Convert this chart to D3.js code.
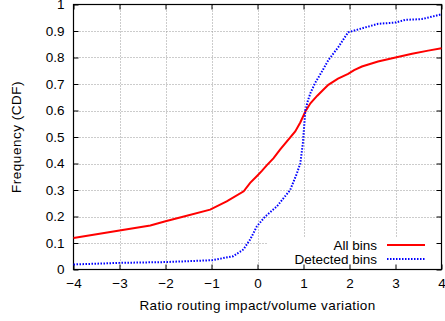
<!DOCTYPE html>
<html>
<head>
<meta charset="utf-8">
<script src="https://cdn.jsdelivr.net/npm/d3@7"></script>
<style>
  body { margin: 0; background: #fff; }
  text { font-family: "Liberation Sans", Arial, sans-serif; font-size: 13.5px; fill: #000; }
</style>
</head>
<body>
<svg width="445" height="321"></svg>
<script>
"use strict";

// values
const allBinsX = [-4, -3, -2.33, -2, -1.6, -1.03, -0.67, -0.3, -0.16, 0, 0.095, 0.2, 0.35, 0.49, 0.82, 0.93, 1.04, 1.15, 1.3, 1.43, 1.54, 1.75, 1.97, 2.1, 2.27, 2.62, 3.0, 3.36, 3.71, 4];
const allBinsY = [0.119, 0.147, 0.166, 0.182, 0.2, 0.226, 0.257, 0.295, 0.327, 0.355, 0.372, 0.393, 0.42, 0.452, 0.521, 0.555, 0.596, 0.627, 0.656, 0.678, 0.697, 0.72, 0.738, 0.752, 0.766, 0.785, 0.8, 0.814, 0.826, 0.835];

const detectedX = [-4, -3, -2, -0.99, -0.53, -0.31, -0.16, -0.013, 0.167, 0.42, 0.71, 0.85, 0.93, 0.987, 1.04, 1.1, 1.16, 1.25, 1.4, 1.54, 1.76, 1.97, 2.27, 2.62, 3.0, 3.21, 3.57, 3.79, 4];
const detectedY = [0.019, 0.025, 0.028, 0.035, 0.05, 0.075, 0.113, 0.163, 0.2, 0.238, 0.3, 0.36, 0.4, 0.477, 0.6, 0.64, 0.67, 0.703, 0.747, 0.79, 0.84, 0.895, 0.91, 0.927, 0.932, 0.942, 0.945, 0.954, 0.963];

const xTicks = [-4, -3, -2, -1, 0, 1, 2, 3, 4];
const yTicks = [0, 0.1, 0.2, 0.3, 0.4, 0.5, 0.6, 0.7, 0.8, 0.9, 1];

const seriesNames = ["All bins", "Detected bins"];

window.addEventListener("load", drawChart);

function drawChart() {
    const svg = d3.select("svg");
    const left = 73.5, right = 441.5, top = 4.5, bottom = 269.5;

    const x = d3.scaleLinear().domain([-4, 4]).range([left, right]);
    const y = d3.scaleLinear().domain([0, 1]).range([bottom, top]);

    // grid
    const grid = svg.append("g")
        .attr("stroke", "#999")
        .attr("stroke-width", 1)
        .attr("stroke-dasharray", "1,2");
    grid.selectAll(".gx")
        .data(xTicks.slice(1, -1))
        .join("line")
            .attr("x1", d => Math.round(x(d)) + 0.5)
            .attr("x2", d => Math.round(x(d)) + 0.5)
            .attr("y1", top)
            .attr("y2", bottom);
    grid.selectAll(".gy")
        .data(yTicks.slice(1, -1))
        .join("line")
            .attr("y1", d => Math.round(y(d)) + 0.5)
            .attr("y2", d => Math.round(y(d)) + 0.5)
            .attr("x1", left)
            .attr("x2", right);

    // legend box hides the grid behind it
    svg.append("rect")
        .attr("x", 267).attr("y", 237)
        .attr("width", right - 1 - 267).attr("height", bottom - 237)
        .attr("fill", "#fff");

    // axes with inward ticks on all four sides
    const tick = 5;
    svg.append("g")
        .attr("transform", `translate(0,${bottom})`)
        .call(d3.axisBottom(x).tickValues(xTicks).tickSize(-tick).tickPadding(9.4).tickFormat(d3.format("d")));
    svg.append("g")
        .attr("transform", `translate(0,${top})`)
        .call(d3.axisTop(x).tickValues(xTicks).tickSize(-tick).tickFormat(""));
    svg.append("g")
        .attr("transform", `translate(${left},0)`)
        .call(d3.axisLeft(y).tickValues(yTicks).tickSize(-tick).tickPadding(9).tickFormat(d => d === 0 || d === 1 ? d : d3.format(".1f")(d)));
    svg.append("g")
        .attr("transform", `translate(${right},0)`)
        .call(d3.axisRight(y).tickValues(yTicks).tickSize(-tick).tickFormat(""));
    svg.selectAll(".domain").remove();
    svg.selectAll(".tick text")
        .attr("font-family", "Liberation Sans, Arial, sans-serif")
        .attr("font-size", 13.5)
        .attr("fill", "#000");

    svg.append("rect")
        .attr("x", left).attr("y", top)
        .attr("width", right - left).attr("height", bottom - top)
        .attr("fill", "none")
        .attr("stroke", "#000")
        .attr("stroke-width", 1.2);

    const line = d3.line().x(d => x(d[0])).y(d => y(d[1]));

    svg.append("path")
        .datum(d3.zip(allBinsX, allBinsY))
        .attr("fill", "none")
        .attr("stroke", "#ff0000")
        .attr("stroke-width", 2)
        .attr("d", line);

    svg.append("path")
        .datum(d3.zip(detectedX, detectedY))
        .attr("fill", "none")
        .attr("stroke", "#0000ff")
        .attr("stroke-width", 2)
        .attr("stroke-dasharray", "1.5,1.5")
        .attr("d", line);

    // legend
    const legend = svg.append("g");
    const styles = [
        {stroke: "#ff0000", dash: null},
        {stroke: "#0000ff", dash: "1.5,1.5"}
    ];
    seriesNames.forEach((name, i) => {
        const ly = 245 + i * 14;
        legend.append("text")
            .attr("x", 377)
            .attr("y", ly + 4.5)
            .attr("text-anchor", "end")
            .text(name);
        legend.append("line")
            .attr("x1", 387).attr("x2", 425)
            .attr("y1", ly).attr("y2", ly)
            .attr("stroke", styles[i].stroke)
            .attr("stroke-width", 2)
            .attr("stroke-dasharray", styles[i].dash);
    });

    svg.append("text")
        .attr("x", (left + right) / 2)
        .attr("y", 310)
        .attr("text-anchor", "middle")
        .attr("letter-spacing", 0.38)
        .text("Ratio routing impact/volume variation");

    svg.append("text")
        .attr("text-anchor", "middle")
        .attr("letter-spacing", 0.5)
        .attr("transform", `translate(21 ${(top + bottom) / 2}) rotate(-90)`)
        .text("Frequency (CDF)");
}
</script>
</body>
</html>
